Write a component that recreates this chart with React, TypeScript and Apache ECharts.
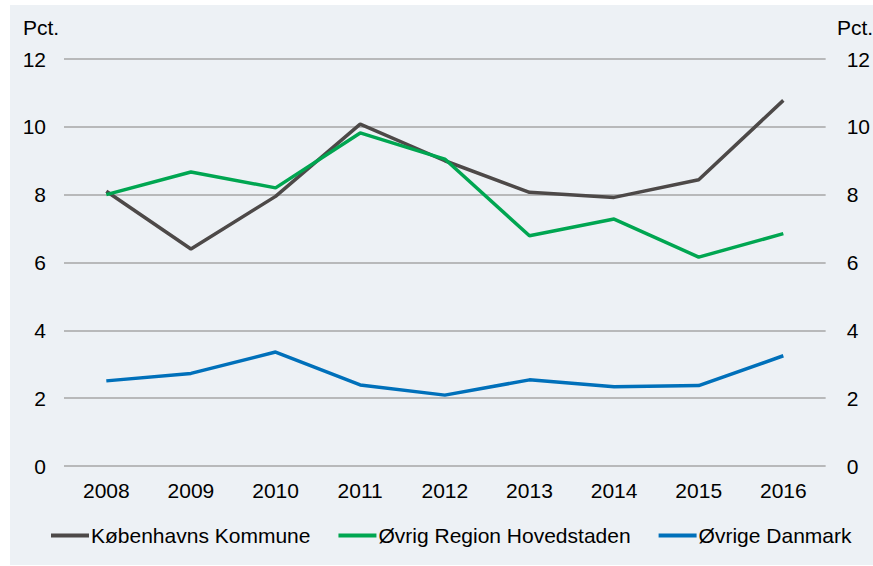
import React, { useEffect, useRef } from "react";
import * as echarts from "echarts";

const years = ["2008", "2009", "2010", "2011", "2012", "2013", "2014", "2015", "2016"];
const kobenhavn = [8.1, 6.4, 7.95, 10.08, 9.0, 8.07, 7.92, 8.44, 10.78];
const ovrigRegion = [8.0, 8.67, 8.2, 9.82, 9.05, 6.79, 7.28, 6.16, 6.85];
const ovrigeDanmark = [2.51, 2.73, 3.36, 2.39, 2.09, 2.54, 2.34, 2.37, 3.25];
const seriesNames = ["Københavns Kommune", "Øvrig Region Hovedstaden", "Øvrige Danmark"];
const yUnit = "Pct.";

const FONT = "'Liberation Sans', Arial, sans-serif";

export default function App() {
  const ref = useRef<HTMLDivElement>(null);
  useEffect(() => {
    if (!ref.current) return;
    const chart = echarts.init(ref.current, null, { renderer: "svg" });
    const axisLabelBase = { fontSize: 21, color: "#000", fontFamily: FONT };
    chart.setOption({
      animation: false,
      backgroundColor: "#ffffff",
      textStyle: { fontFamily: FONT },
      graphic: [
        {
          type: "rect",
          z: -10,
          shape: { x: 10, y: 5, width: 863, height: 560 },
          style: { fill: "#EDF1F5" },
          silent: true,
        },
        {
          type: "text",
          left: 23,
          top: 17,
          style: { text: yUnit, fontSize: 21, fill: "#000", fontFamily: FONT },
        },
        {
          type: "text",
          left: 837,
          top: 17,
          style: { text: yUnit, fontSize: 21, fill: "#000", fontFamily: FONT },
        },
      ],
      grid: { left: 64, right: 43, top: 59, bottom: 100 },
      legend: {
        data: seriesNames,
        left: 46,
        top: 520,
        itemWidth: 38,
        itemHeight: 4,
        itemGap: 28,
        icon: "rect",
        textStyle: { fontSize: 21, color: "#000", fontFamily: FONT, padding: [0, 0, 0, -3] },
      },
      xAxis: {
        type: "category",
        data: years,
        boundaryGap: true,
        axisLine: { show: false },
        axisTick: { show: false },
        axisLabel: { ...axisLabelBase, margin: 14 },
        splitLine: { show: false },
      },
      yAxis: [
        {
          type: "value",
          min: 0,
          max: 12,
          interval: 2,
          position: "left",
          axisLine: { show: false },
          axisTick: { show: false },
          axisLabel: { ...axisLabelBase, margin: 18 },
          splitLine: { show: true, lineStyle: { color: "#A6A6A6", width: 1.5 } },
        },
        {
          type: "value",
          min: 0,
          max: 12,
          interval: 2,
          position: "right",
          axisLine: { show: false },
          axisTick: { show: false },
          axisLabel: { ...axisLabelBase, margin: 21 },
          splitLine: { show: false },
        },
      ],
      series: [
        {
          name: seriesNames[0],
          type: "line",
          data: kobenhavn,
          symbol: "none",
          itemStyle: { color: "#4D4948" },
          lineStyle: { color: "#4D4948", width: 3.5 },
        },
        {
          name: seriesNames[1],
          type: "line",
          data: ovrigRegion,
          symbol: "none",
          itemStyle: { color: "#00A651" },
          lineStyle: { color: "#00A651", width: 3.5 },
        },
        {
          name: seriesNames[2],
          type: "line",
          data: ovrigeDanmark,
          symbol: "none",
          itemStyle: { color: "#0070BA" },
          lineStyle: { color: "#0070BA", width: 3.5 },
        },
      ],
    });
    return () => chart.dispose();
  }, []);
  return (
    <div
      ref={ref}
      style={{ position: "absolute", left: 0, top: 0, width: 873, height: 566 }}
    />
  );
}
